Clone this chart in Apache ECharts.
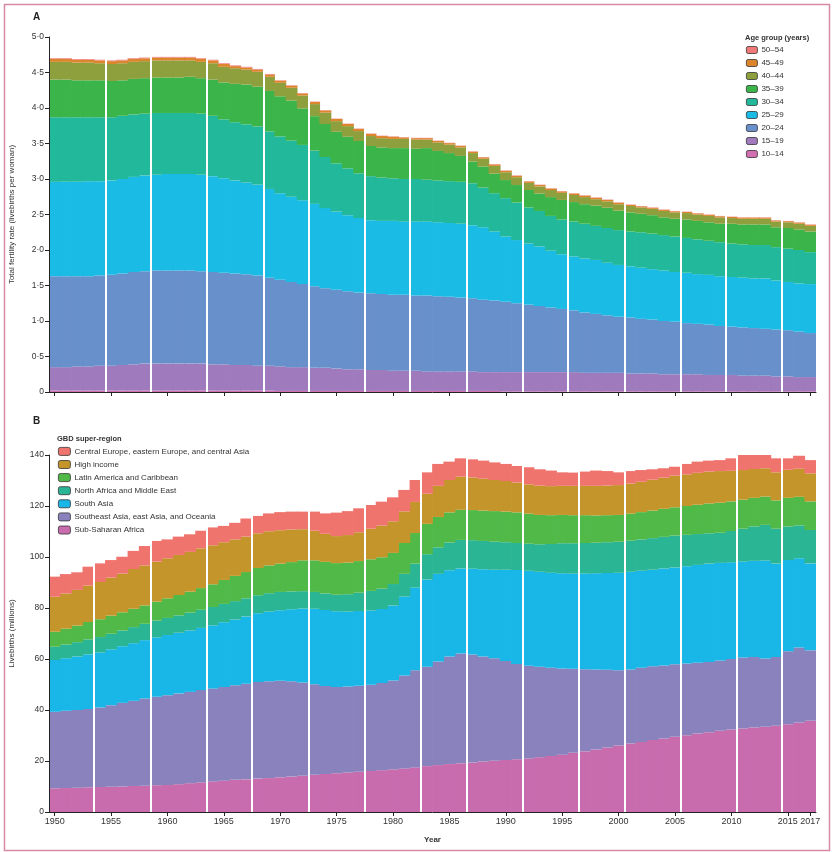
<!DOCTYPE html>
<html>
<head>
<meta charset="utf-8">
<script src="https://cdn.jsdelivr.net/npm/echarts@6/dist/echarts.min.js"></script>
<style>
html,body{margin:0;padding:0;background:#fff;}
#chart{width:832px;height:852px;}
</style>
</head>
<body>
<div id="chart"></div>
<script>
// ---------- Data ----------
const years = [];
for (let y = 1950; y <= 2017; y++) years.push(String(y));

// Panel A: age-specific contributions to total fertility rate (livebirths per woman)
const tfr10_14 = [0.02,0.02,0.02,0.02,0.02,0.02,0.02,0.02,0.02,0.02,0.02,0.02,0.02,0.02,0.02,0.02,0.02,0.02,0.02,0.02,
  0.015,0.015,0.015,0.015,0.015,0.015,0.015,0.015,0.015,0.015,0.015,0.015,0.015,0.015,0.015,0.015,0.015,0.015,0.015,0.015,
  0.01,0.01,0.01,0.01,0.01,0.01,0.01,0.01,0.01,0.01,0.01,0.01,0.01,0.01,0.01,0.01,0.01,0.01,0.01,0.01,0.01,0.01,0.01,0.01,0.01,0.01,0.01,0.01];
const tfr15_19 = [0.33,0.33,0.34,0.34,0.35,0.35,0.36,0.37,0.38,0.38,0.38,0.38,0.38,0.38,0.37,0.37,0.36,0.36,0.35,0.35,
  0.345,0.335,0.335,0.325,0.325,0.315,0.305,0.305,0.295,0.295,0.285,0.285,0.285,0.275,0.275,0.275,0.275,0.275,0.265,0.265,
  0.27,0.27,0.27,0.27,0.27,0.27,0.27,0.26,0.26,0.26,0.26,0.25,0.25,0.25,0.24,0.24,0.24,0.24,0.23,0.23,0.23,0.22,0.22,0.22,0.21,0.21,0.20,0.20];
const tfr20_24 = [1.28,1.28,1.27,1.27,1.27,1.28,1.29,1.30,1.30,1.31,1.31,1.31,1.31,1.30,1.30,1.29,1.29,1.28,1.27,1.24,
  1.22,1.20,1.17,1.15,1.12,1.11,1.10,1.08,1.08,1.07,1.07,1.07,1.06,1.07,1.06,1.05,1.04,1.03,1.02,1.01,
  0.99,0.97,0.95,0.93,0.91,0.89,0.87,0.85,0.83,0.81,0.79,0.79,0.77,0.76,0.75,0.74,0.72,0.71,0.71,0.69,
  0.68,0.68,0.67,0.66,0.66,0.65,0.64,0.62];
const tfr25_29 = [1.33,1.33,1.33,1.34,1.33,1.33,1.33,1.34,1.35,1.35,1.36,1.36,1.36,1.36,1.35,1.33,1.31,1.29,1.28,1.25,
  1.22,1.20,1.18,1.16,1.13,1.10,1.07,1.05,1.03,1.03,1.04,1.03,1.04,1.04,1.04,1.04,1.04,1.03,1.02,0.97,
  0.92,0.89,0.86,0.84,0.80,0.77,0.76,0.76,0.76,0.74,0.73,0.72,0.72,0.71,0.71,0.70,0.71,0.70,0.70,0.70,
  0.70,0.70,0.70,0.71,0.69,0.68,0.68,0.69];
const tfr30_34 = [0.91,0.91,0.91,0.90,0.90,0.89,0.89,0.88,0.87,0.87,0.86,0.86,0.86,0.86,0.85,0.83,0.82,0.82,0.82,0.81,
  0.80,0.79,0.78,0.75,0.72,0.68,0.66,0.63,0.62,0.61,0.60,0.60,0.60,0.59,0.59,0.59,0.59,0.59,0.56,0.54,
  0.54,0.53,0.51,0.50,0.49,0.49,0.49,0.49,0.48,0.49,0.49,0.49,0.50,0.50,0.50,0.50,0.49,0.49,0.48,0.48,
  0.47,0.47,0.47,0.47,0.47,0.47,0.47,0.45];
const tfr35_39 = [0.53,0.53,0.52,0.52,0.52,0.51,0.50,0.50,0.50,0.50,0.50,0.50,0.51,0.50,0.51,0.52,0.54,0.56,0.56,0.57,
  0.565,0.565,0.515,0.485,0.465,0.445,0.445,0.455,0.425,0.425,0.425,0.435,0.425,0.445,0.415,0.395,0.365,0.305,0.295,0.275,
  0.255,0.245,0.245,0.245,0.265,0.275,0.275,0.275,0.285,0.285,0.275,0.27,0.26,0.26,0.25,0.25,0.26,0.26,0.26,0.26,
  0.28,0.28,0.29,0.29,0.28,0.29,0.29,0.29];
const tfr40_44 = [0.25,0.25,0.25,0.25,0.24,0.24,0.24,0.24,0.24,0.24,0.24,0.24,0.23,0.23,0.23,0.22,0.22,0.21,0.21,0.20,
  0.19,0.18,0.18,0.17,0.16,0.15,0.15,0.14,0.14,0.13,0.13,0.13,0.13,0.12,0.12,0.12,0.12,0.12,0.11,0.11,
  0.11,0.11,0.10,0.10,0.10,0.10,0.10,0.10,0.09,0.09,0.09,0.09,0.09,0.09,0.09,0.09,0.09,0.09,0.09,0.09,
  0.08,0.08,0.08,0.08,0.08,0.08,0.08,0.08];
const tfr45_49 = [0.04,0.04,0.04,0.04,0.04,0.04,0.04,0.04,0.04,0.04,0.04,0.04,0.04,0.04,0.04,0.04,
  0.03,0.03,0.03,0.03,0.03,0.03,0.03,0.03,0.03,0.03,0.03,0.03,0.03,0.03,0.03,
  0.02,0.02,0.02,0.02,0.02,0.02,0.02,0.02,0.02,0.02,0.02,0.02,0.02,0.02,0.02,0.02,0.02,0.02,0.02,0.02,
  0.015,0.015,0.015,0.015,0.015,0.015,0.015,0.015,0.015,0.015,0.015,0.015,0.015,0.015,0.015,0.015,0.015];
const tfr50_54 = [0.01,0.01,0.01,0.01,0.01,0.01,0.01,0.01,0.01,0.01,0.01,0.01,0.01,0.01,0.01,0.01,0.01,0.01,0.01,0.01,
  0.005,0.005,0.005,0.005,0.005,0.005,0.005,0.005,0.005,0.005,0.005,0.005,0.005,0.005,0.005,0.005,0.005,0.005,0.005,0.005,
  0.005,0.005,0.005,0.005,0.005,0.005,0.005,0.005,0.005,0.005,0.005,0.005,0.005,0.005,0.005,0.005,0.005,0.005,0.005,0.005,
  0.005,0.005,0.005,0.005,0.005,0.005,0.005,0.005];

// Panel B: livebirths (millions) by GBD super-region
const birthsSSA = [9.3,9.4,9.5,9.7,9.8,9.9,10.0,10.2,10.3,10.5,10.6,10.9,11.3,11.6,12.0,12.3,12.6,12.8,13.1,13.3,
  13.6,13.9,14.2,14.6,14.9,15.2,15.5,15.8,16.1,16.4,16.7,17.1,17.5,18.0,18.4,18.8,19.1,19.4,19.8,20.1,
  20.4,20.7,21.0,21.5,22.0,22.5,23.2,23.8,24.5,25.3,26.1,26.9,27.5,28.2,28.8,29.5,30.1,30.8,31.3,31.9,
  32.4,32.7,33.1,33.4,33.8,34.4,35.1,35.8];
const birthsSEA = [30.0,30.3,30.5,30.7,31.2,32.0,32.8,33.4,34.2,34.7,35.2,35.6,35.8,36.2,36.4,36.7,37.1,37.5,37.9,38.0,
  37.9,37.4,36.6,35.5,34.5,33.8,33.7,33.7,33.8,34.2,34.9,36.4,38.1,39.0,40.6,42.2,43.1,42.4,41.2,40.2,
  38.8,37.3,36.4,35.5,34.6,33.8,33.0,32.2,31.4,30.5,29.5,29.0,29.1,29.0,28.7,28.4,28.1,27.7,27.5,27.5,
  27.6,27.9,27.7,26.8,27.0,28.6,29.4,27.6];
const birthsSA = [20.3,20.6,21.0,21.4,21.6,21.9,22.2,22.6,22.9,23.3,23.6,23.8,24.1,24.4,24.8,25.4,25.8,26.4,26.9,27.3,
  27.6,28.2,29.0,29.6,29.8,29.7,29.4,29.3,29.1,29.0,29.4,31.0,32.4,34.2,34.4,33.8,33.3,33.6,34.2,34.7,
  35.8,36.9,37.2,37.2,37.2,37.3,37.3,37.5,37.7,37.9,38.2,38.3,38.0,37.8,38.0,38.0,38.2,38.4,38.6,38.3,
  37.9,37.6,37.7,38.4,36.6,35.8,35.0,34.1];
const birthsNAME = [5.2,5.4,5.6,5.9,6.0,6.1,6.2,6.3,6.4,6.6,6.7,6.8,7.0,7.1,7.2,7.2,7.2,7.1,7.1,7.2,
  7.2,7.0,6.8,6.6,6.5,6.5,6.8,7.2,7.7,8.0,8.4,8.9,9.4,9.9,10.4,10.9,11.2,11.2,11.1,11.0,
  10.8,10.6,10.6,10.8,11.3,11.8,11.9,12.0,12.0,12.1,12.2,12.2,12.3,12.4,12.4,12.5,12.3,12.1,11.9,11.8,
  12.3,12.9,13.5,14.0,13.7,13.2,12.9,13.1];
const birthsLAC = [5.9,6.2,6.5,6.8,7.0,7.1,7.1,7.2,7.2,7.4,7.7,8.0,8.2,8.5,8.9,9.4,9.9,10.3,10.7,10.9,
  11.1,11.5,12.1,12.4,12.4,12.4,12.4,12.4,12.4,12.3,12.2,12.1,12.0,11.9,11.9,11.8,11.8,11.8,11.9,12.0,
  12.0,12.0,11.8,11.5,11.3,11.1,11.0,10.9,10.7,10.6,10.5,10.6,10.7,10.8,11.0,11.1,11.3,11.5,11.7,11.8,
  11.6,11.4,11.2,11.1,11.1,11.2,11.2,11.2];
const birthsHI = [13.7,13.8,14.0,14.3,14.6,14.9,15.2,15.6,15.7,15.7,15.7,15.7,15.6,15.6,15.3,14.8,14.3,13.9,13.6,13.4,
  13.1,12.8,12.2,11.6,11.0,10.6,10.8,11.3,12.0,12.4,12.4,12.4,12.2,11.8,12.2,12.7,13.0,12.8,12.5,12.2,
  12.0,11.7,11.5,11.5,11.4,11.4,11.5,11.5,11.6,11.6,11.7,11.8,11.9,12.1,12.2,12.4,12.4,12.5,12.5,12.4,
  12.0,11.6,11.3,11.1,11.0,11.0,11.0,11.0];
const birthsCE = [7.9,7.6,6.9,7.4,7.3,6.9,6.6,7.1,7.6,8.1,7.4,7.2,6.9,6.9,7.0,6.4,6.5,7.1,6.8,7.0,
  7.1,7.0,6.9,7.5,8.0,9.2,9.4,9.4,9.3,9.4,9.4,8.4,8.6,8.4,8.6,7.2,7.2,7.1,7.1,6.9,
  6.7,6.5,6.7,6.4,6.1,5.3,5.2,5.6,6.0,5.7,5.0,4.9,4.6,4.1,3.7,3.5,4.1,4.4,4.3,4.3,
  4.9,5.9,6.4,6.1,5.5,4.5,5.1,5.2];

// Vertical white separators visible in the figure (between year bars)
const gapsA = [1954.5,1958.5,1963.5,1968.5,1972.5,1977.5,1981.5,1986.5,1991.5,1995.5,2000.5,2005.5,2009.5,2014.5];
const gapsB = [1953.5,1958.5,1963.5,1967.5,1972.5,1977.5,1982.5,1986.5,1991.5,1996.5,2000.5,2005.5,2010.5,2014.5];

const ageNames = ['10–14','15–19','20–24','25–29','30–34','35–39','40–44','45–49','50–54'];
const ageData = [tfr10_14,tfr15_19,tfr20_24,tfr25_29,tfr30_34,tfr35_39,tfr40_44,tfr45_49,tfr50_54];
const ageColors = ['#d070b0','#9f7bbd','#6890cb','#1abbe4','#22b89b','#3bb54a','#8e9f3e','#db852c','#f07a78'];

const regionNames = ['Sub-Saharan Africa','Southeast Asia, east Asia, and Oceania','South Asia',
  'North Africa and Middle East','Latin America and Caribbean','High income',
  'Central Europe, eastern Europe, and central Asia'];
const regionData = [birthsSSA,birthsSEA,birthsSA,birthsNAME,birthsLAC,birthsHI,birthsCE];
const regionColors = ['#c96cae','#8a82bd','#19b6e8','#2ab595','#50b948','#c4952a','#f0746e'];

// ---------- Chart ----------
const FONT = "'Liberation Sans', Arial, sans-serif";
const txt = '#333';
const showYear = (i) => { const y = 1950 + i; return (y - 1950) % 5 === 0 || y === 2017; };
const decFmt = (v) => v === 0 ? '0' : v.toFixed(1).replace('.', '\u00B7');

const series = [];
ageNames.forEach((n, i) => series.push({
  name: n, type: 'bar', stack: 'tfr', xAxisIndex: 0, yAxisIndex: 0,
  data: ageData[i], barWidth: 12, itemStyle: {color: ageColors[i]}, silent: true
}));
regionNames.forEach((n, i) => series.push({
  name: n, type: 'bar', stack: 'births', xAxisIndex: 1, yAxisIndex: 1,
  data: regionData[i], barWidth: 12, itemStyle: {color: regionColors[i]}, silent: true
}));
series.push({type: 'line', xAxisIndex: 2, yAxisIndex: 0, data: [], silent: true, z: 3,
  markLine: {symbol: 'none', silent: true, label: {show: false}, animation: false,
    lineStyle: {color: '#fff', width: 2, type: 'solid'}, data: gapsA.map(v => ({xAxis: v}))}});
series.push({type: 'line', xAxisIndex: 3, yAxisIndex: 1, data: [], silent: true, z: 3,
  markLine: {symbol: 'none', silent: true, label: {show: false}, animation: false,
    lineStyle: {color: '#fff', width: 2, type: 'solid'}, data: gapsB.map(v => ({xAxis: v}))}});

const axisLine = {show: true, lineStyle: {color: '#222', width: 1}};
const tick = {show: true, length: 4, lineStyle: {color: '#222'}};

const option = {
  animation: false,
  backgroundColor: '#fff',
  textStyle: {fontFamily: FONT},
  title: [
    {text: 'A', left: 33, top: 12, padding: 0, z: 20, textStyle: {fontSize: 10, fontWeight: 'bold', color: '#222', fontFamily: FONT}},
    {text: 'B', left: 33, top: 416, padding: 0, z: 20, textStyle: {fontSize: 10, fontWeight: 'bold', color: '#222', fontFamily: FONT}},
    {text: 'Age group (years)', left: 745, top: 34, padding: 0, z: 20, textStyle: {fontSize: 7.5, fontWeight: 'bold', color: txt, fontFamily: FONT}},
    {text: 'GBD super-region', left: 57, top: 435, padding: 0, z: 20, textStyle: {fontSize: 7.5, fontWeight: 'bold', color: txt, fontFamily: FONT}}
  ],
  legend: [
    {data: ageNames.slice().reverse(), orient: 'vertical', left: 746, top: 46, padding: 0, z: 20,
      itemWidth: 11, itemHeight: 7, itemGap: 5, icon: 'roundRect', selectedMode: false,
      itemStyle: {borderColor: '#333', borderWidth: 0.8},
      textStyle: {fontSize: 8, color: txt, fontFamily: FONT, lineHeight: 7, padding: [0,0,0,-1]}},
    {data: regionNames.slice().reverse(), orient: 'vertical', left: 58, top: 447, padding: 0, z: 20,
      itemWidth: 12, itemHeight: 8, itemGap: 4.3, icon: 'roundRect', selectedMode: false,
      itemStyle: {borderColor: '#333', borderWidth: 0.8},
      textStyle: {fontSize: 8, color: txt, fontFamily: FONT, lineHeight: 8, padding: [0,0,0,-1]}}
  ],
  grid: [
    {left: 49, top: 37, width: 767, height: 355},
    {left: 49, top: 455, width: 767, height: 357}
  ],
  xAxis: [
    {type: 'category', gridIndex: 0, data: years, boundaryGap: true, axisLine: axisLine, z: 10,
      axisTick: Object.assign({}, tick, {alignWithLabel: true, interval: (i) => showYear(i)}),
      axisLabel: {show: false}},
    {type: 'category', gridIndex: 1, data: years, boundaryGap: true, axisLine: axisLine, z: 10,
      axisTick: Object.assign({}, tick, {alignWithLabel: true, interval: (i) => showYear(i)}),
      axisLabel: {interval: (i) => showYear(i), fontSize: 9, color: txt, margin: 5, fontFamily: FONT},
      name: 'Year', nameLocation: 'middle', nameGap: 24,
      nameTextStyle: {fontSize: 8, fontWeight: 'bold', color: txt, fontFamily: FONT}},
    {type: 'value', gridIndex: 0, min: 1949.5, max: 2017.5, show: false},
    {type: 'value', gridIndex: 1, min: 1949.5, max: 2017.5, show: false}
  ],
  yAxis: [
    {type: 'value', gridIndex: 0, min: 0, max: 5, interval: 0.5, axisLine: axisLine, axisTick: tick, z: 10,
      splitLine: {show: false},
      axisLabel: {formatter: decFmt, fontSize: 8.5, color: txt, margin: 5, fontFamily: FONT},
      name: 'Total fertility rate (livebirths per woman)', nameLocation: 'middle', nameGap: 33, nameRotate: 90,
      nameTextStyle: {fontSize: 8, color: txt, fontFamily: FONT}},
    {type: 'value', gridIndex: 1, min: 0, max: 140, interval: 20, axisLine: axisLine, axisTick: tick, z: 10,
      splitLine: {show: false},
      axisLabel: {fontSize: 8.5, color: txt, margin: 5, fontFamily: FONT},
      name: 'Livebirths (millions)', nameLocation: 'middle', nameGap: 33, nameRotate: 90,
      nameTextStyle: {fontSize: 8, color: txt, fontFamily: FONT}}
  ],
  graphic: [
    {type: 'rect', left: 2, top: 2, z: 100, silent: true,
      shape: {width: 825, height: 846}, style: {fill: 'none', stroke: '#d88aa4', lineWidth: 1.5}}
  ],
  series: series
};

const chart = echarts.init(document.getElementById('chart'), null, {renderer: 'canvas'});
chart.setOption(option);
</script>
</body>
</html>
